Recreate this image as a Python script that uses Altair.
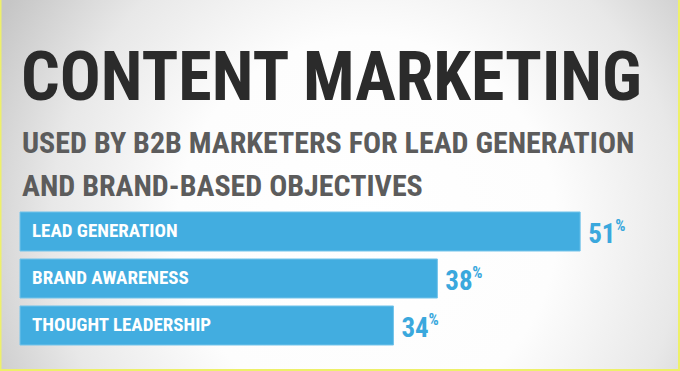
import altair as alt
import pandas as pd

# Share of B2B marketers using content marketing for each objective
objectives = ["LEAD GENERATION", "BRAND AWARENESS", "THOUGHT LEADERSHIP"]
shares = [51, 38, 34]

title_text = "CONTENT MARKETING"
subtitle_lines = [
    "USED BY B2B MARKETERS FOR LEAD GENERATION",
    "AND BRAND-BASED OBJECTIVES",
]

FONT = "'Roboto Condensed', 'Liberation Sans Narrow', 'DejaVu Sans Condensed', sans-serif"
BAR_BLUE = "#42ade0"
TEXT_BLUE = "#3aa8dd"

df = pd.DataFrame({"objective": objectives, "share": shares})
df["start"] = 0

W, H = 659, 141
PAD = {"left": 20, "right": 1, "top": 208, "bottom": 22}
one = pd.DataFrame({"k": [0]})


def panel(x0, x1, y0, y1, fill):
    """A plain rectangle in pixel space, used for the backdrop and its edge."""
    return alt.Chart(one).mark_rect(color=fill).encode(
        x=alt.value(x0), x2=alt.value(x1), y=alt.value(y0), y2=alt.value(y1)
    )


LEFT, RIGHT = -PAD["left"], W + PAD["right"]
TOP, BOTTOM = -PAD["top"], H + PAD["bottom"]

# Soft vignette behind everything
vignette = alt.Gradient(
    gradient="radial",
    x1=0.54, y1=0.56, r1=0.0,
    x2=0.54, y2=0.56, r2=0.62,
    stops=[
        alt.GradientStop(color="#ffffff", offset=0.0),
        alt.GradientStop(color="#fdfdfd", offset=0.45),
        alt.GradientStop(color="#e8e8e8", offset=0.75),
        alt.GradientStop(color="#c6c6c6", offset=1.0),
    ],
)
background = panel(LEFT, RIGHT, TOP, BOTTOM, vignette)

edge = "#eef06a"
edges = [
    panel(LEFT, LEFT + 1.5, TOP, BOTTOM, edge),
    panel(RIGHT - 2, RIGHT, TOP, BOTTOM, edge),
    panel(LEFT, RIGHT, BOTTOM - 2, BOTTOM, edge),
]

# Headline and two-line subhead
headline = alt.Chart(one).mark_text(
    text=title_text, align="left", baseline="alphabetic",
    font=FONT, fontWeight="bold", fontSize=68, color="#2b2b2b",
).encode(x=alt.value(1), y=alt.value(100 - PAD["top"]))

subheads = [
    alt.Chart(one).mark_text(
        text=line, align="left", baseline="alphabetic",
        font=FONT, fontWeight="bold", fontSize=30, color="#5c5c5c",
    ).encode(x=alt.value(2), y=alt.value(base_y - PAD["top"]))
    for line, base_y in zip(subtitle_lines, [153, 196])
]

x_scale = alt.Scale(domain=[0, 60], nice=False)
x_enc = alt.X("share:Q", scale=x_scale, axis=None)
y_enc = alt.Y(
    "objective:N",
    sort=objectives,
    scale=alt.Scale(paddingInner=0.17, paddingOuter=0.085),
    axis=None,
)

base = alt.Chart(df)

bars = base.mark_bar(color=BAR_BLUE, stroke="#72c3ea", strokeWidth=1).encode(
    x=x_enc, y=y_enc
)

bar_labels = base.mark_text(
    align="left", baseline="middle", dx=12, dy=-1,
    font=FONT, fontWeight="bold", fontSize=19, color="white",
).encode(x=alt.X("start:Q", scale=x_scale, axis=None), y=y_enc, text="objective:N")

values = base.mark_text(
    align="left", baseline="middle", dx=8, dy=3,
    font=FONT, fontWeight="bold", fontSize=27, color=TEXT_BLUE,
).encode(x=x_enc, y=y_enc, text="share:Q")

percent = base.mark_text(
    align="left", baseline="middle", dx=35, dy=-6,
    font=FONT, fontWeight="bold", fontSize=16, color=TEXT_BLUE, text="%",
).encode(x=x_enc, y=y_enc)

chart = alt.layer(
    background, *edges, headline, *subheads, bars, bar_labels, values, percent
).properties(
    width=W,
    height=H,
    padding=PAD,
    autosize=alt.AutoSizeParams(type="none"),
).configure_view(strokeWidth=0)

chart.save("out.html", embed_options={"renderer": "svg", "actions": False})
